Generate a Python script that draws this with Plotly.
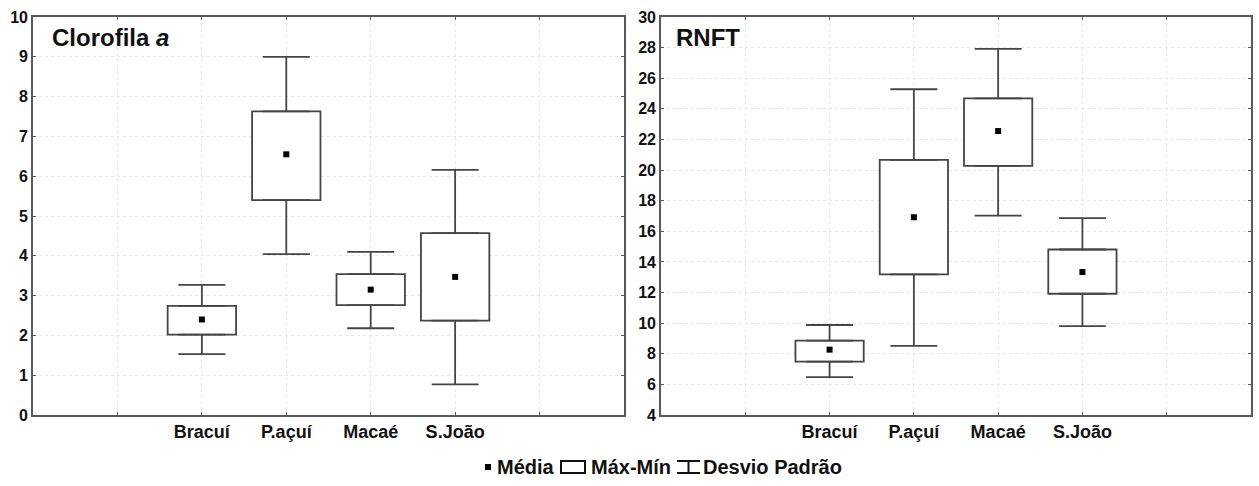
import plotly.graph_objects as go

# Locais de coleta
locais = ["Bracuí", "P.açuí", "Macaé", "S.João"]

# Clorofila a
clo_media = [2.40, 6.55, 3.15, 3.47]
clo_caixa_inf = [2.02, 5.40, 2.76, 2.37]
clo_caixa_sup = [2.74, 7.63, 3.54, 4.57]
clo_haste_inf = [1.53, 4.04, 2.18, 0.77]
clo_haste_sup = [3.27, 9.00, 4.10, 6.16]

# RNFT
rnft_media = [8.27, 16.92, 22.55, 13.34]
rnft_caixa_inf = [7.49, 13.19, 20.28, 11.92]
rnft_caixa_sup = [8.86, 20.67, 24.69, 14.81]
rnft_haste_inf = [6.48, 8.52, 17.03, 9.80]
rnft_haste_sup = [9.88, 25.28, 27.92, 16.86]

W, H = 1259, 486
FONT = "Liberation Sans, Arial, Helvetica, sans-serif"
LINE = "#454545"
AXIS = "#5a5a5a"

pos = [i + 2 for i in range(len(locais))]
tick_pos = list(range(1, 7))
tick_txt = [""] + [f"<b>{c}</b>" for c in locais] + [""]

fig = go.Figure()


def painel(media, c_inf, c_sup, h_inf, h_sup, xa, ya):
    # caixa
    fig.add_trace(go.Bar(
        x=pos, y=[s - i for s, i in zip(c_sup, c_inf)], base=c_inf,
        width=0.81, marker=dict(color="white", line=dict(color=LINE, width=1.8)),
        xaxis=xa, yaxis=ya, showlegend=False, hoverinfo="skip"))
    # haste superior
    fig.add_trace(go.Scatter(
        x=pos, y=c_sup, mode="markers", marker=dict(size=0.1, color=LINE),
        error_y=dict(type="data", symmetric=False,
                     array=[h - s for h, s in zip(h_sup, c_sup)],
                     arrayminus=[0] * len(pos),
                     color=LINE, thickness=1.8, width=23.5),
        xaxis=xa, yaxis=ya, showlegend=False, hoverinfo="skip"))
    # haste inferior
    fig.add_trace(go.Scatter(
        x=pos, y=c_inf, mode="markers", marker=dict(size=0.1, color=LINE),
        error_y=dict(type="data", symmetric=False,
                     array=[0] * len(pos),
                     arrayminus=[i - h for i, h in zip(c_inf, h_inf)],
                     color=LINE, thickness=1.8, width=23.5),
        xaxis=xa, yaxis=ya, showlegend=False, hoverinfo="skip"))
    # média
    fig.add_trace(go.Scatter(
        x=pos, y=media, mode="markers",
        marker=dict(symbol="square", size=6, color="black"),
        xaxis=xa, yaxis=ya, showlegend=False, hoverinfo="skip"))


painel(clo_media, clo_caixa_inf, clo_caixa_sup, clo_haste_inf, clo_haste_sup, "x", "y")
painel(rnft_media, rnft_caixa_inf, rnft_caixa_sup, rnft_haste_inf, rnft_haste_sup, "x2", "y2")

y0 = 1 - 415 / H
y1 = 1 - 17 / H

eixo_x = dict(range=[0, 7], tickmode="array", tickvals=tick_pos, ticktext=tick_txt,
              showline=True, linecolor=AXIS, linewidth=1.6, mirror="ticks",
              ticks="inside", ticklen=3, tickcolor=AXIS, tickwidth=1.2,
              showgrid=True, gridcolor="#e6e6e6", griddash="dot", gridwidth=1,
              zeroline=False, tickfont=dict(family=FONT, size=18, color="#111"),
              automargin=False, fixedrange=True)
eixo_y = dict(showline=True, linecolor=AXIS, linewidth=1.6, mirror="ticks",
              ticks="inside", ticklen=3, tickcolor=AXIS, tickwidth=1.2,
              showgrid=True, gridcolor="#e6e6e6", griddash="dot", gridwidth=1,
              zeroline=False, tickfont=dict(family=FONT, size=16, color="#111"),
              tickprefix="<b>", ticksuffix="</b>", automargin=False, fixedrange=True)

fig.update_layout(
    template="none",
    width=W, height=H,
    margin=dict(l=0, r=0, t=0, b=0, autoexpand=False),
    paper_bgcolor="white", plot_bgcolor="white",
    barmode="overlay",
    xaxis=dict(eixo_x, domain=[33 / W, 624 / W], anchor="y"),
    yaxis=dict(eixo_y, domain=[y0, y1], range=[0, 10], dtick=1, anchor="x"),
    xaxis2=dict(eixo_x, domain=[661 / W, 1251 / W], anchor="y2"),
    yaxis2=dict(eixo_y, domain=[y0, y1], range=[4, 30], dtick=2, anchor="x2"),
)

# títulos dos painéis
fig.add_annotation(text="<b>Clorofila <i>a</i></b>", x=50 / W, y=1 - 38 / H,
                   xref="paper", yref="paper", xanchor="left", yanchor="middle",
                   showarrow=False, font=dict(family=FONT, size=24, color="#111"))
fig.add_annotation(text="<b>RNFT</b>", x=674 / W, y=1 - 38 / H,
                   xref="paper", yref="paper", xanchor="left", yanchor="middle",
                   showarrow=False, font=dict(family=FONT, size=24, color="#111"))

# legenda
ly = 467
lf = dict(family=FONT, size=20, color="#111")


def px(x):
    return x / W


def py(y):
    return 1 - y / H


fig.add_shape(type="rect", xref="paper", yref="paper",
              x0=px(485), x1=px(491), y0=py(ly + 3), y1=py(ly - 3),
              fillcolor="black", line=dict(width=0))
fig.add_annotation(text="<b>Média</b>", x=px(495), y=py(ly), xref="paper", yref="paper",
                   xanchor="left", yanchor="middle", showarrow=False, font=lf)
fig.add_shape(type="rect", xref="paper", yref="paper",
              x0=px(561), x1=px(585), y0=py(ly + 6), y1=py(ly - 6),
              fillcolor="white", line=dict(color="#111", width=2))
fig.add_annotation(text="<b>Máx-Mín</b>", x=px(589), y=py(ly), xref="paper", yref="paper",
                   xanchor="left", yanchor="middle", showarrow=False, font=lf)
for (xa0, ya0, xa1, ya1) in [(677, ly - 6, 700, ly - 6), (677, ly + 6, 700, ly + 6),
                             (688.5, ly - 6, 688.5, ly + 6)]:
    fig.add_shape(type="line", xref="paper", yref="paper",
                  x0=px(xa0), y0=py(ya0), x1=px(xa1), y1=py(ya1),
                  line=dict(color="#111", width=2))
fig.add_annotation(text="<b>Desvio Padrão</b>", x=px(701), y=py(ly), xref="paper", yref="paper",
                   xanchor="left", yanchor="middle", showarrow=False, font=lf)

fig.write_html("out.html")
